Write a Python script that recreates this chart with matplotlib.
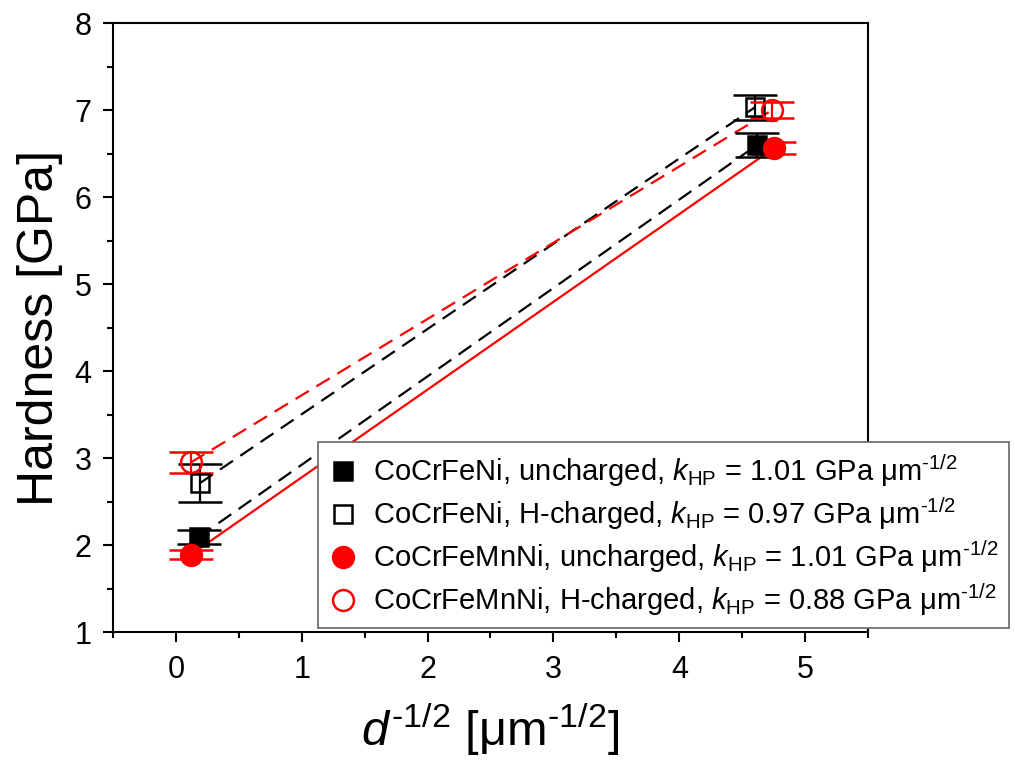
import numpy as np
import matplotlib
matplotlib.use("Agg")
import matplotlib.pyplot as plt

plt.rcParams["font.family"] = ["Liberation Sans", "DejaVu Sans"]
plt.rcParams["mathtext.fontset"] = "custom"
plt.rcParams["mathtext.rm"] = "Liberation Sans"
plt.rcParams["mathtext.it"] = "Liberation Sans:italic"

HY = "\u2010"   # hyphen, mathtext would turn "-" into a long minus
SUP = r"^{\mathrm{" + HY + r"1/2}}"

# ── data ────────────────────────────────────────────────────────
unit = r"GPa $\mathrm{\mu}$m$" + SUP + "$"
labels = [
    r"CoCrFeNi, uncharged, $k_{\mathrm{HP}}$ = 1.01 " + unit,
    r"CoCrFeNi, H-charged, $k_{\mathrm{HP}}$ = 0.97 " + unit,
    r"CoCrFeMnNi, uncharged, $k_{\mathrm{HP}}$ = 1.01 " + unit,
    r"CoCrFeMnNi, H-charged, $k_{\mathrm{HP}}$ = 0.88 " + unit,
]
x_cocrfeni_unch = [0.18, 4.62]
y_cocrfeni_unch = [2.09, 6.60]
e_cocrfeni_unch = [0.08, 0.14]

x_cocrfeni_h = [0.19, 4.60]
y_cocrfeni_h = [2.71, 7.03]
e_cocrfeni_h = [0.22, 0.14]

x_cantor_unch = [0.12, 4.75]
y_cantor_unch = [1.89, 6.56]
e_cantor_unch = [0.05, 0.07]

x_cantor_h = [0.12, 4.74]
y_cantor_h = [2.95, 7.00]
e_cantor_h = [0.12, 0.09]

series = [
    (x_cocrfeni_unch, y_cocrfeni_unch, e_cocrfeni_unch, "k", "s", True, "--"),
    (x_cocrfeni_h, y_cocrfeni_h, e_cocrfeni_h, "k", "s", False, "--"),
    (x_cantor_unch, y_cantor_unch, e_cantor_unch, "red", "o", True, "-"),
    (x_cantor_h, y_cantor_h, e_cantor_h, "red", "o", False, "--"),
]

# ── figure ──────────────────────────────────────────────────────
fig = plt.figure(figsize=(10.15, 7.62), dpi=100)
ax = fig.add_axes([0.1113, 0.1706, 0.7439, 0.7992])

handles = []
for (xs, ys, es, col, mk, filled, ls), lab in zip(series, labels):
    xs = np.asarray(xs)
    ys = np.asarray(ys)
    # Hall-Petch fit line
    p = np.polyfit(xs, ys, 1)
    xf = np.array([xs.min(), xs.max()])
    ax.plot(xf, np.polyval(p, xf), color=col, ls=ls, lw=1.6,
            dashes=(7, 4) if ls == "--" else (None, None), zorder=2)
    ms = 13 if mk == "s" else 15
    ax.errorbar(xs, ys, yerr=es, fmt="none", ecolor=col, elinewidth=1.6,
                capsize=16, capthick=1.8, zorder=3)
    h, = ax.plot(xs, ys, ls="none", marker=mk, ms=ms, color=col,
                 mfc=col if filled else "none", mec=col, mew=1.8, zorder=4,
                 label=lab)
    handles.append(h)

ax.set_xlim(-0.5, 5.5)
ax.set_ylim(1, 8)
ax.set_xticks(range(0, 6))
ax.set_xticks(np.arange(-0.5, 5.51, 0.5), minor=True)
ax.set_yticks(range(1, 9))
ax.set_yticks(np.arange(1, 8.01, 0.5), minor=True)
ax.tick_params(which="major", direction="out", length=7.5, width=1.5,
               labelsize=22, top=False, right=False)
ax.tick_params(which="minor", direction="out", length=4, width=1.5,
               top=False, right=False)
ax.tick_params(axis="x", which="major", pad=9)
ax.tick_params(axis="y", which="major", pad=8)
for sp in ax.spines.values():
    sp.set_linewidth(1.5)

ax.set_ylabel("Hardness [GPa]", fontsize=36, labelpad=8)
ax.set_xlabel(r"$d" + SUP + r"$ [$\mathrm{\mu}$m$" + SUP + "$]",
              fontsize=35, labelpad=12)

leg = ax.legend(handles=handles, loc="lower left",
                bbox_to_anchor=(0.2715, 0.0066), borderaxespad=0,
                fontsize=21, frameon=True, fancybox=False,
                edgecolor="0.4", framealpha=1, handlelength=1.0,
                handletextpad=0.55, labelspacing=0.22, borderpad=0.35,
                markerscale=1.0)
leg.get_frame().set_linewidth(1.2)

fig.savefig("out.png", dpi=100)
